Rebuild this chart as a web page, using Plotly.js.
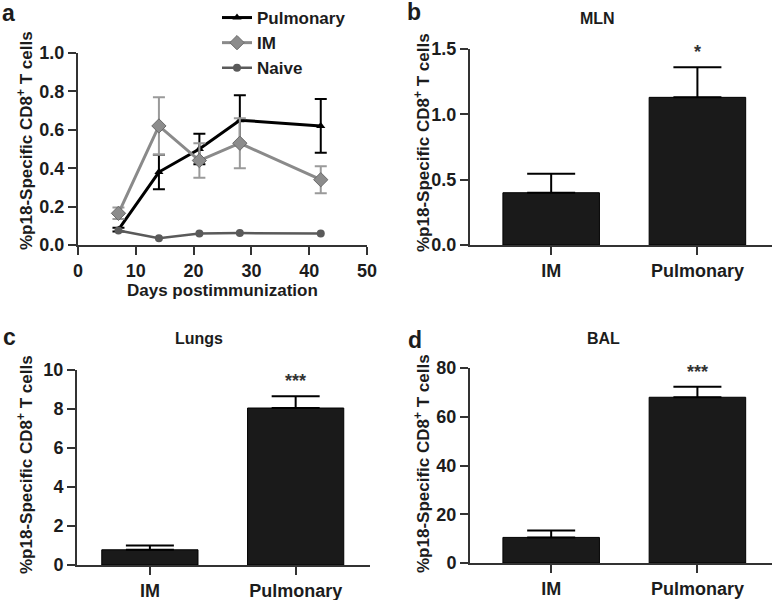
<!DOCTYPE html>
<html>
<head>
<meta charset="utf-8">
<script src="https://cdn.plot.ly/plotly-3.0.1.min.js"></script>
<style>html,body{margin:0;padding:0;background:#fff;}#chart{width:773px;height:600px;}</style>
</head>
<body>
<div id="chart"></div>
<script>
// ---- data ----
const days = [7, 14, 21, 28, 42];
const pulmMean = [0.08, 0.38, 0.50, 0.65, 0.62];
const pulmErr = [0.01, 0.09, 0.08, 0.13, 0.14];
const imMean = [0.165, 0.62, 0.44, 0.53, 0.34];
const imErr = [0.03, 0.15, 0.09, 0.13, 0.07];
const naiveMean = [0.075, 0.035, 0.06, 0.062, 0.06];

const groups = ['IM', 'Pulmonary'];
const mlnMean = [0.40, 1.13];
const mlnErr = [0.145, 0.23];
const lungsMean = [0.78, 8.05];
const lungsErr = [0.22, 0.60];
const balMean = [10.5, 68];
const balErr = [2.8, 4.3];

const xTicksA = [0, 10, 20, 30, 40, 50];
const yTicksA = [0, 0.2, 0.4, 0.6, 0.8, 1.0];
const yTicksB = [0, 0.5, 1.0, 1.5];
const yTicksC = [0, 2, 4, 6, 8, 10];
const yTicksD = [0, 20, 40, 60, 80];

const yLabel = '%p18-Specific CD8<sup>+</sup> T cells';
const ink = '#1c1c1c';
const W = 773, H = 600;
const px = v => v / W;
const py = v => 1 - v / H;

const FAM = 'Liberation Sans, Arial, Helvetica, sans-serif';
const FONT = {family: FAM, size: 18, color: ink, weight: 'bold'};

const traces = [
  {x: days, y: pulmMean, type: 'scatter', mode: 'lines+markers', name: 'Pulmonary', xaxis: 'x', yaxis: 'y',
   line: {color: '#000', width: 3}, marker: {symbol: 'triangle-up', size: 8, color: '#000'},
   error_y: {type: 'data', array: pulmErr, visible: true, color: '#000', thickness: 2, width: 6}, cliponaxis: false},
  {x: days, y: imMean, type: 'scatter', mode: 'lines+markers', name: 'IM', xaxis: 'x', yaxis: 'y',
   line: {color: '#8a8a8a', width: 3}, marker: {symbol: 'diamond', size: 11, color: '#8c8c8c', line: {color: '#6a6a6a', width: 1}},
   error_y: {type: 'data', array: imErr, visible: true, color: '#9a9a9a', thickness: 2, width: 6}, cliponaxis: false},
  {x: days, y: naiveMean, type: 'scatter', mode: 'lines+markers', name: 'Naive', xaxis: 'x', yaxis: 'y',
   line: {color: '#5a5a5a', width: 2.5}, marker: {symbol: 'circle', size: 8, color: '#5a5a5a'}, cliponaxis: false},

  {x: groups, y: mlnMean, type: 'bar', xaxis: 'x2', yaxis: 'y2', showlegend: false, width: 0.66,
   marker: {color: '#1a1a1a', line: {color: '#000', width: 1}},
   error_y: {type: 'data', symmetric: false, array: mlnErr, arrayminus: [0, 0], color: '#000', thickness: 2, width: 24}},
  {x: groups, y: lungsMean, type: 'bar', xaxis: 'x3', yaxis: 'y3', showlegend: false, width: 0.66,
   marker: {color: '#1a1a1a', line: {color: '#000', width: 1}},
   error_y: {type: 'data', symmetric: false, array: lungsErr, arrayminus: [0, 0], color: '#000', thickness: 2, width: 24}},
  {x: groups, y: balMean, type: 'bar', xaxis: 'x4', yaxis: 'y4', showlegend: false, width: 0.66,
   marker: {color: '#1a1a1a', line: {color: '#000', width: 1}},
   error_y: {type: 'data', symmetric: false, array: balErr, arrayminus: [0, 0], color: '#000', thickness: 2, width: 24}}
];

const axBase = {showgrid: false, zeroline: false, showline: true, linecolor: '#333', linewidth: 2,
  ticks: 'outside', ticklen: 8, tickwidth: 2, tickcolor: '#333', tickfont: FONT, fixedrange: true, automargin: false};

const layout = {
  width: W, height: H, margin: {l: 0, r: 0, t: 0, b: 0, autoexpand: false},
  paper_bgcolor: '#fff', plot_bgcolor: '#fff', font: FONT, bargap: 0,
  showlegend: true,
  legend: {x: px(217), y: 1.0, xanchor: 'left', yanchor: 'top', font: {family: FAM, size: 17, color: ink, weight: 'bold'},
           bgcolor: 'rgba(0,0,0,0)', tracegroupgap: 0},
  xaxis: Object.assign({}, axBase, {domain: [px(78), px(367)], range: [0, 50], tickvals: xTicksA, anchor: 'y'}),
  yaxis: Object.assign({}, axBase, {domain: [py(245), py(53)], range: [0, 1.0], tickvals: yTicksA, tickformat: '.1f', anchor: 'x'}),
  xaxis2: Object.assign({}, axBase, {domain: [px(470), px(772)], range: [-0.555, 1.51], type: 'category', anchor: 'y2'}),
  yaxis2: Object.assign({}, axBase, {domain: [py(245), py(49)], range: [0, 1.5], tickvals: yTicksB, tickformat: '.1f', anchor: 'x2'}),
  xaxis3: Object.assign({}, axBase, {domain: [px(77), px(370)], range: [-0.5, 1.51], type: 'category', anchor: 'y3'}),
  yaxis3: Object.assign({}, axBase, {domain: [py(565), py(370)], range: [0, 10], tickvals: yTicksC, anchor: 'x3'}),
  xaxis4: Object.assign({}, axBase, {domain: [px(470), px(772)], range: [-0.555, 1.51], type: 'category', anchor: 'y4'}),
  yaxis4: Object.assign({}, axBase, {domain: [py(563), py(368)], range: [0, 80], tickvals: yTicksD, anchor: 'x4'}),
  annotations: []
};

const ann = layout.annotations;
function paperText(text, x, y, size, extra) {
  ann.push(Object.assign({text: text, xref: 'paper', yref: 'paper', x: px(x), y: py(y), xanchor: 'center', yanchor: 'middle',
    showarrow: false, font: {family: FAM, size: size, color: ink, weight: 'bold'}}, extra || {}));
}
// panel letters
paperText('a', 8, 13, 23);
paperText('b', 414, 12, 23);
paperText('c', 9, 337, 23);
paperText('d', 415, 340, 23);
// panel titles
paperText('MLN', 597, 18, 16);
paperText('Lungs', 199, 338, 16);
paperText('BAL', 603, 338, 16);
// axis titles
paperText('Days postimmunization', 222, 290, 17);
paperText(yLabel, 25, 141, 17, {textangle: -90});
paperText(yLabel, 422, 142, 17, {textangle: -90});
paperText(yLabel, 25, 465, 17, {textangle: -90});
paperText(yLabel, 422, 463, 17, {textangle: -90});
// significance stars
function star(text, xa, ya, cat, top) {
  ann.push({text: text, xref: xa, yref: ya, x: cat, y: top, yanchor: 'bottom', yshift: 3, showarrow: false,
    font: {family: FAM, size: 18, color: '#333'}});
}
star('*', 'x2', 'y2', groups[1], mlnMean[1] + mlnErr[1]);
star('***', 'x3', 'y3', groups[1], lungsMean[1] + lungsErr[1]);
star('***', 'x4', 'y4', groups[1], balMean[1] + balErr[1]);

Plotly.newPlot('chart', traces, layout, {displayModeBar: false, staticPlot: true});
</script>
</body>
</html>
